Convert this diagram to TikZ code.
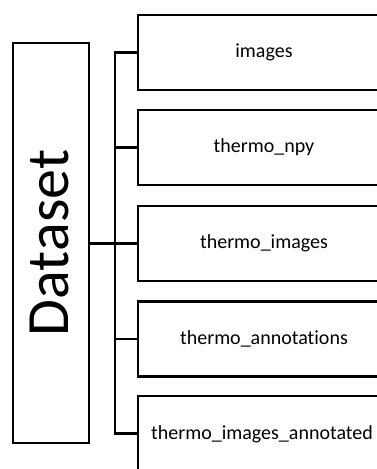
\documentclass[tikz,border=0pt]{standalone}
\usepackage{fontspec}
\setmainfont{Carlito}[Ligatures=NoCommon]
\begin{document}
\begin{tikzpicture}[x=1pt,y=-1pt,
  line width=2.2pt, line join=miter,
  root/.style={draw, rectangle, minimum width=76pt, minimum height=400pt, inner sep=0pt},
  leaf/.style={draw, rectangle, minimum width=252pt, minimum height=75pt, inner sep=0pt, font=\fontsize{20}{24}\selectfont}]
  \useasboundingbox (0,0) rectangle (377,469);
  \clip (0,0) rectangle (377,469);

  % root folder
  \node[root] (ds) at (51,243) {};
  \node[rotate=90, font=\fontsize{60}{72}\selectfont] (dslabel) at (49,243) {Dataset};

  % sub-folders
  \node[leaf] (b1) at (264,52.5) {images};
  \node[leaf] (b2) at (264,147.5) {thermo\_npy};
  \node[leaf] (b3) at (264,243.5) {thermo\_images};
  \node[leaf] (b4) at (264,339) {thermo\_annotations};
  \node[leaf] (b5) at (264,433.5) {};
  \node[font=\fontsize{20}{24}\selectfont] (b5label) at (262,434) {thermo\_images\_annotated};

  % tree connectors
  \coordinate (bus) at (115,0);
  \draw (b1.west) -- (b1.west -| bus) -- (b5.west -| bus) -- (b5.west);
  \draw (b2.west) -- (b2.west -| bus);
  \draw (b4.west) -- (b4.west -| bus);
  \draw (ds.east |- b3.west) -- (b3.west);
\end{tikzpicture}
\end{document}
